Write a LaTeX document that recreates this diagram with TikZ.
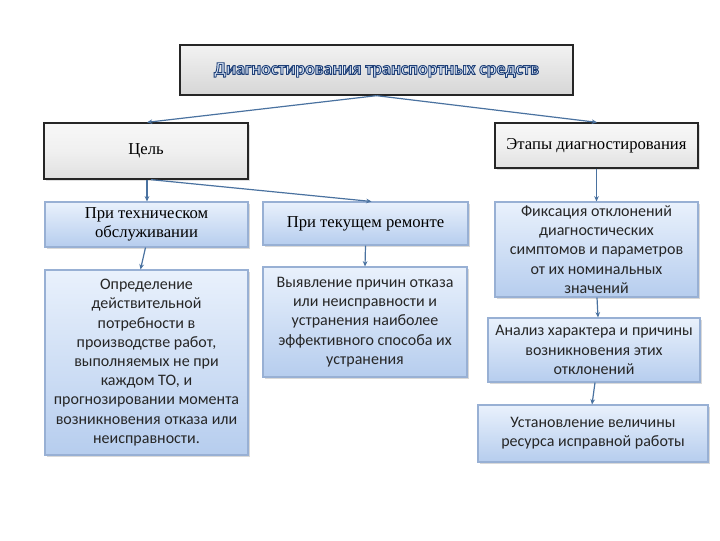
\documentclass[tikz,border=0pt]{standalone}
\usepackage{fontspec}
\setmainfont{Liberation Serif}
\newfontfamily\calfont{Carlito}
\usetikzlibrary{shadows,calc,arrows.meta}
\definecolor{arrowc}{HTML}{4A72A0}
\definecolor{bluetop}{HTML}{E9F1FC}
\definecolor{bluebot}{HTML}{B6CDEE}
\definecolor{blueedge}{HTML}{98B0D4}
\definecolor{titlefill}{HTML}{DCE8F7}
\tikzset{
  titlebox/.style={draw=black!85, line width=1pt, top color=gray!10, bottom color=gray!32,
     drop shadow={opacity=0.2, shadow xshift=1pt, shadow yshift=-1pt}},
  graybox/.style={draw=black!85, line width=1pt, top color=gray!6, bottom color=gray!24,
     middle color=gray!12, drop shadow={opacity=0.25, shadow xshift=1.2pt, shadow yshift=-1.2pt}},
  bluebox/.style={draw=blueedge, line width=0.8pt, top color=bluetop, bottom color=bluebot,
     drop shadow={opacity=0.3, shadow xshift=1.5pt, shadow yshift=-1.5pt}},
  sertext/.style={font=\fontsize{12.5pt}{14.5pt}\selectfont, align=center, text=black},
  caltext/.style={font=\calfont\fontsize{12pt}{14.4pt}\selectfont, align=center, text=black!85},
  conn/.style={draw=arrowc, line width=0.9pt, -{Stealth[length=4pt,width=3.5pt]}},
}
\begin{document}
\begin{tikzpicture}[x=0.75pt,y=-0.75pt]
\useasboundingbox (0,0) rectangle (720,540);
% title
\node[titlebox, minimum width=393*0.75pt, minimum height=50*0.75pt, inner sep=0pt,
  font=\calfont\bfseries\fontsize{13.5pt}{16pt}\selectfont] (title) at (376.5,70)
  {\color{titlefill}\special{pdf:literal direct 2 Tr 0.7 w 0.12 0.25 0.47 RG}Диагностирования транспортных средств\special{pdf:literal direct 0 Tr}};
% level 2
\node[graybox, sertext, minimum width=204*0.75pt, minimum height=56*0.75pt, inner sep=0pt] (cel) at (146,151) {Цель};
\node[graybox, sertext, minimum width=203*0.75pt, minimum height=45*0.75pt, inner sep=0pt] (et) at (596.5,145.5) {Этапы диагностирования};
% left column
\node[bluebox, sertext, minimum width=203*0.75pt, minimum height=45*0.75pt, inner sep=0pt] (pt) at (146.5,224.5) {При техническом\\обслуживании};
\node[bluebox, caltext, minimum width=203*0.75pt, minimum height=185*0.75pt, inner sep=0pt] (op) at (146.5,362.5)
  {Определение\\действительной\\потребности в\\производстве работ,\\выполняемых не при\\каждом ТО, и\\прогнозировании момента\\возникновения отказа или\\неисправности.};
% middle column
\node[bluebox, sertext, minimum width=205*0.75pt, minimum height=43*0.75pt, inner sep=0pt] (tek) at (365.5,223.5) {При текущем ремонте};
\node[bluebox, caltext, minimum width=204*0.75pt, minimum height=110*0.75pt, inner sep=0pt] (vy) at (365,322)
  {Выявление причин отказа\\или неисправности и\\устранения наиболее\\эффективного способа их\\устранения};
% right column
\node[bluebox, caltext, minimum width=203*0.75pt, minimum height=95*0.75pt, inner sep=0pt] (fix) at (596.5,249.5)
  {Фиксация отклонений\\диагностических\\симптомов и параметров\\от их номинальных\\значений};
\node[bluebox, caltext, minimum width=212*0.75pt, minimum height=64*0.75pt, inner sep=0pt] (an) at (594,350)
  {Анализ характера и причины\\возникновения этих\\отклонений};
\node[bluebox, caltext, minimum width=230*0.75pt, minimum height=57*0.75pt, inner sep=0pt] (ust) at (593,433.5)
  {Установление величины\\ресурса исправной работы};
% connectors
\draw[conn] (title.south) -- ($(cel.north)+(1,0)$);
\draw[conn] (title.south) -- ($(et.north)+(0.5,0)$);
\draw[conn] ($(cel.south)+(1,0)$) -- ($(pt.north)+(0.5,0)$);
\draw[conn] ($(cel.south)+(5,0)$) -- ($(tek.north)+(6,0)$);
\draw[conn] ($(pt.south)+(-1,0)$) -- ($(op.north)+(-6,0)$);
\draw[conn] (tek.south) -- (vy.north);
\draw[conn] (et.south) -- (fix.north);
\draw[conn] ($(fix.south)+(0.5,0)$) -- ($(an.north)+(4,0)$);
\draw[conn] ($(an.south)+(1,0)$) -- ($(ust.north)+(-1,0)$);
\end{tikzpicture}
\end{document}
